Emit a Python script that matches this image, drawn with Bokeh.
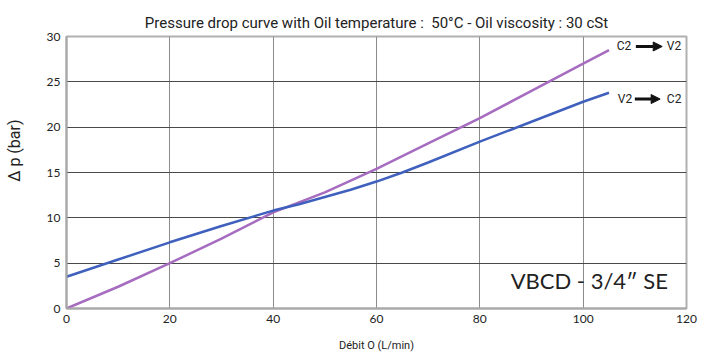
import math
from bokeh.plotting import figure
from bokeh.models import Label, Arrow, NormalHead, Range1d, FixedTicker
from bokeh.embed import file_html
from bokeh.resources import INLINE

# Data
flow = [0, 10, 20, 30, 40, 45, 50, 55, 60, 65, 70, 80, 90, 100, 105]
dp_v2_c2 = [3.5, 5.4, 7.3, 9.1, 10.8, 11.5, 12.3, 13.1, 14.0, 15.0, 16.1, 18.4, 20.6, 22.8, 23.8]
dp_c2_v2 = [0.0, 2.4, 5.0, 7.7, 10.6, 11.7, 12.8, 14.1, 15.4, 16.8, 18.2, 21.0, 24.0, 27.0, 28.5]
x_ticks = [0, 20, 40, 60, 80, 100, 120]
y_ticks = [0, 5, 10, 15, 20, 25, 30]

title_text = "Pressure drop curve with Oil temperature :\u00a0 50°C - Oil viscosity : 30 cSt"
x_label_text = "Débit O (L/min)"
y_label_text = "\u00a0" * 11 + "Δ p (bar)"
model_text = "VBCD - 3/4\u2033 SE"

NARROW = "Roboto"
GOTHIC = "Lato"

p = figure(width=703, height=354, output_backend="svg", toolbar_location=None,
           x_range=Range1d(0, 120), y_range=Range1d(0, 30),
           min_border_left=66, min_border_right=17, min_border_top=36, min_border_bottom=46,
           title=title_text)
p.background_fill_color = "white"
p.border_fill_color = "white"
p.outline_line_color = "#b0b0b0"
p.outline_line_width = 2

p.title.align = "center"
p.title.text_font = NARROW
p.title.text_font_size = "15px"
p.title.text_font_style = "normal"
p.title.text_color = "#222222"
p.title.standoff = 10

for ax in (p.xaxis[0], p.yaxis[0]):
    ax.axis_line_color = "#a8a8a8"
    ax.axis_line_width = 2
    ax.major_tick_out = 0
    ax.major_tick_in = 0
    ax.minor_tick_out = 0
    ax.minor_tick_in = 0
    ax.major_label_text_font = GOTHIC
    ax.major_label_text_font_size = "12px"
    ax.major_label_text_color = "#222222"
    ax.major_label_standoff = 6
    ax.axis_label_text_font = NARROW
    ax.axis_label_text_font_style = "normal"
    ax.axis_label_text_color = "#222222"
p.xaxis.ticker = FixedTicker(ticks=x_ticks)
p.yaxis.ticker = FixedTicker(ticks=y_ticks)
p.xaxis.axis_label = x_label_text
p.xaxis.axis_label_text_font_size = "11px"
p.xaxis.axis_label_standoff = 13
p.yaxis.axis_label = y_label_text
p.yaxis.axis_label_text_font_size = "16px"
p.yaxis.axis_label_standoff = 20

p.xgrid.grid_line_color = "#8c8c8c"
p.xgrid.grid_line_width = 1
p.ygrid.grid_line_color = "#4a4a4a"
p.ygrid.grid_line_width = 1

p.line(flow, dp_c2_v2, line_color="#a66cbf", line_width=2.5)
p.line(flow, dp_v2_c2, line_color="#3f60bd", line_width=2.5)

# Model label
p.add_layout(Label(x=116.4, y=3.1, text=model_text, text_align="right", text_baseline="middle",
                   text_font=GOTHIC, text_font_size="22px", text_color="#222222"))

# Direction labels with arrows
def dir_label(left, right, y, xl, xa0, xa1, xr):
    p.add_layout(Label(x=xl, y=y, text=left, text_align="right", text_baseline="middle",
                       text_font=NARROW, text_font_size="12px", text_color="#222222"))
    p.add_layout(Label(x=xr, y=y, text=right, text_align="left", text_baseline="middle",
                       text_font=NARROW, text_font_size="12px", text_color="#222222"))
    p.add_layout(Arrow(x_start=xa0, y_start=y, x_end=xa1, y_end=y, line_width=3, line_color="#111111",
                       end=NormalHead(size=9, fill_color="#111111", line_color="#111111")))

dir_label("C2", "V2", 28.9, 109.3, 110.2, 115.3, 116.2)
dir_label("V2", "C2", 23.1, 109.5, 110.0, 114.9, 116.2)

open("out.html", "w").write(file_html(p, INLINE))
